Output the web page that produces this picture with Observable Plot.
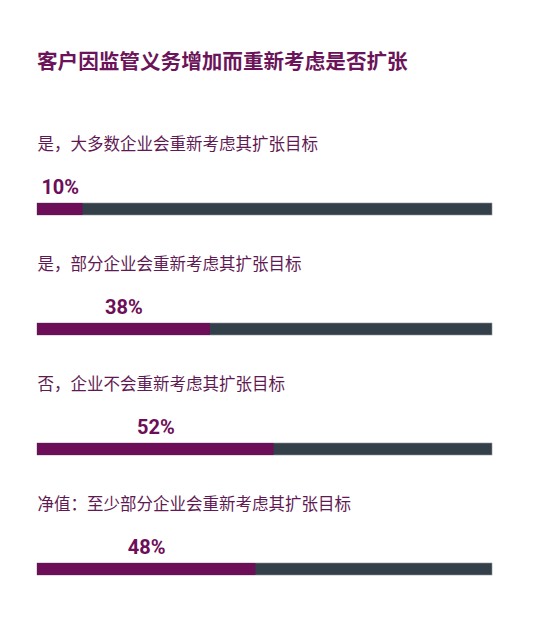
<!DOCTYPE html>
<html>
<head>
<meta charset="utf-8">
<script src="https://cdn.jsdelivr.net/npm/d3@7"></script>
<script src="https://cdn.jsdelivr.net/npm/@observablehq/plot@0.6"></script>
<style>
  html, body { margin: 0; padding: 0; background: #fff; }
  #title {
    font-family: "Noto Sans CJK SC", "Noto Sans", sans-serif;
    font-weight: 700;
    font-size: 20.6px;
    color: #6b1459;
    position: absolute;
    left: 37px;
    top: 45px;
    line-height: 30px;
    margin: 0;
  }
  #chart { position: absolute; left: 0; top: 90px; }
</style>
</head>
<body>
<h2 id="title">客户因监管义务增加而重新考虑是否扩张</h2>
<div id="chart"></div>
<script>
const categories = [
  "是，大多数企业会重新考虑其扩张目标",
  "是，部分企业会重新考虑其扩张目标",
  "否，企业不会重新考虑其扩张目标",
  "净值：至少部分企业会重新考虑其扩张目标"
];
const values = [10, 38, 52, 48];
const valueLabels = ["10%", "38%", "52%", "48%"];

const rows = categories.map((c, i) => ({category: c, value: values[i], label: valueLabels[i]}));

const purple = "#6d0e58";
const slate = "#333f49";

const chart = Plot.plot({
  width: 542,
  height: 520,
  marginLeft: 37,
  marginRight: 50,
  marginTop: 0,
  marginBottom: 0,
  x: {domain: [0, 100], axis: null},
  y: {domain: categories, range: [113, 485], paddingInner: 0.9, paddingOuter: 0, axis: null},
  marks: [
    Plot.barX(rows, {y: "category", x1: 0, x2: 100, fill: slate, stroke: "#8b9097", strokeWidth: 0.6}),
    Plot.barX(rows, {y: "category", x1: 0, x2: "value", fill: purple}),
    Plot.text(rows, {
      y: "category", x: d => d.value / 2, text: "label",
      dy: -22, fill: purple, fontSize: 20, fontWeight: 700,
      fontFamily: "Roboto, sans-serif", textAnchor: "middle"
    }),
    Plot.text(rows, {
      y: "category", x: 0, text: "category",
      dy: -65, fill: "#5f1a53", fontSize: 16.5,
      fontFamily: "'Noto Sans CJK SC', sans-serif", textAnchor: "start"
    })
  ]
});
document.getElementById("chart").appendChild(chart);
</script>
</body>
</html>
